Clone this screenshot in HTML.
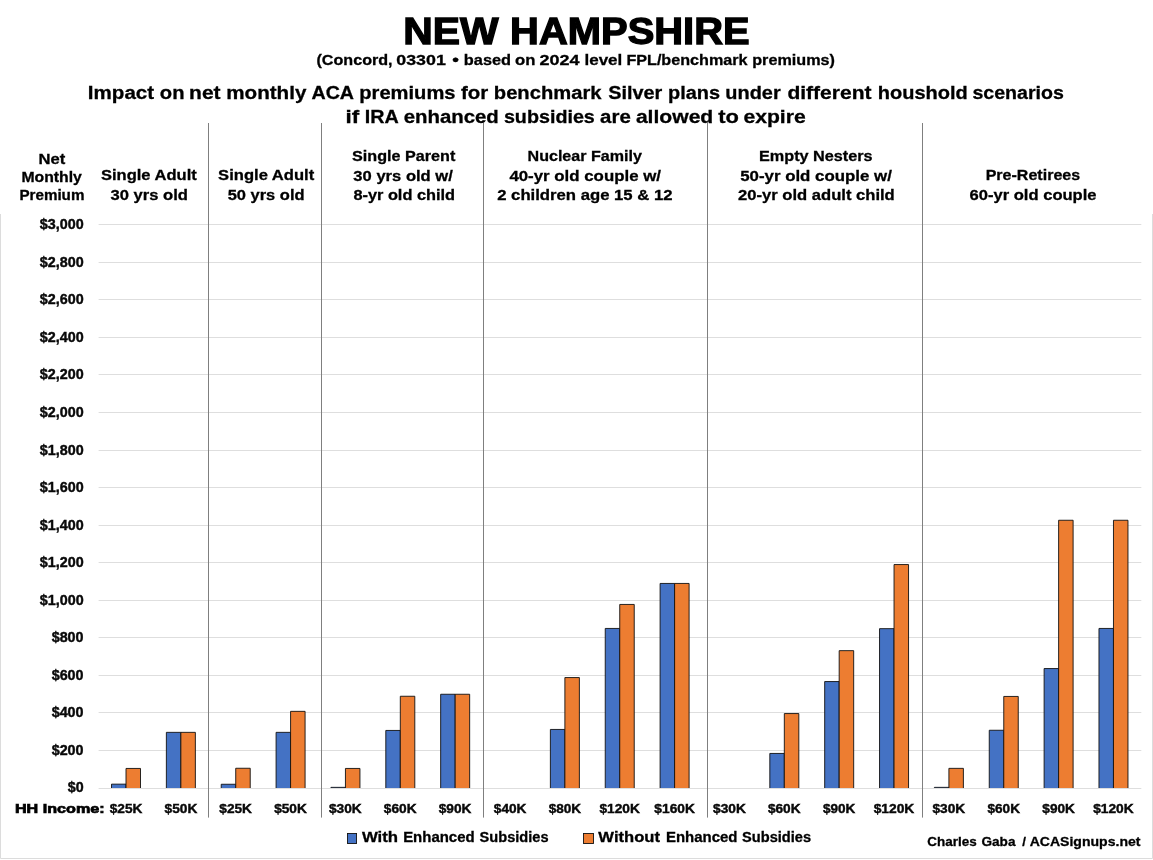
<!DOCTYPE html>
<html lang="en"><head><meta charset="utf-8"><title>New Hampshire - ACA premiums</title>
<style>html,body{margin:0;padding:0;background:#fff}svg{display:block}text{font-family:"Liberation Sans",Arial,sans-serif;font-weight:700;fill:#000}.c{fill:#0a0a0a}</style>
</head><body>
<svg width="1153" height="860" viewBox="0 0 1153 860">
<rect x="0" y="0" width="1153" height="860" fill="#fff"/>
<path d="M0.5 214V858.5H1152.5V214" fill="none" stroke="#dcdcdc" stroke-width="1"/>
<line x1="98.6" y1="788.50" x2="1141.3" y2="788.50" stroke="#dedede" stroke-width="1"/>
<line x1="98.6" y1="750.50" x2="1141.3" y2="750.50" stroke="#dedede" stroke-width="1"/>
<line x1="98.6" y1="712.50" x2="1141.3" y2="712.50" stroke="#dedede" stroke-width="1"/>
<line x1="98.6" y1="675.50" x2="1141.3" y2="675.50" stroke="#dedede" stroke-width="1"/>
<line x1="98.6" y1="637.50" x2="1141.3" y2="637.50" stroke="#dedede" stroke-width="1"/>
<line x1="98.6" y1="600.50" x2="1141.3" y2="600.50" stroke="#dedede" stroke-width="1"/>
<line x1="98.6" y1="562.50" x2="1141.3" y2="562.50" stroke="#dedede" stroke-width="1"/>
<line x1="98.6" y1="525.50" x2="1141.3" y2="525.50" stroke="#dedede" stroke-width="1"/>
<line x1="98.6" y1="487.50" x2="1141.3" y2="487.50" stroke="#dedede" stroke-width="1"/>
<line x1="98.6" y1="450.50" x2="1141.3" y2="450.50" stroke="#dedede" stroke-width="1"/>
<line x1="98.6" y1="412.50" x2="1141.3" y2="412.50" stroke="#dedede" stroke-width="1"/>
<line x1="98.6" y1="374.50" x2="1141.3" y2="374.50" stroke="#dedede" stroke-width="1"/>
<line x1="98.6" y1="337.50" x2="1141.3" y2="337.50" stroke="#dedede" stroke-width="1"/>
<line x1="98.6" y1="299.50" x2="1141.3" y2="299.50" stroke="#dedede" stroke-width="1"/>
<line x1="98.6" y1="262.50" x2="1141.3" y2="262.50" stroke="#dedede" stroke-width="1"/>
<line x1="98.6" y1="224.50" x2="1141.3" y2="224.50" stroke="#dedede" stroke-width="1"/>
<line x1="208.5" y1="123" x2="208.5" y2="817.6" stroke="#7f7f7f" stroke-width="1"/>
<line x1="321.5" y1="123" x2="321.5" y2="817.6" stroke="#7f7f7f" stroke-width="1"/>
<line x1="483.5" y1="123" x2="483.5" y2="817.6" stroke="#7f7f7f" stroke-width="1"/>
<line x1="707.5" y1="123" x2="707.5" y2="817.6" stroke="#7f7f7f" stroke-width="1"/>
<line x1="922.5" y1="123" x2="922.5" y2="817.6" stroke="#7f7f7f" stroke-width="1"/>
<path d="M111.50 788.0V784.15H126.00V788.0" fill="#4472c4" stroke="#111" stroke-width="0.9"/>
<path d="M126.00 788.0V768.45H140.50V788.0" fill="#ed7d31" stroke="#111" stroke-width="0.9"/>
<path d="M166.36 788.0V732.35H180.86V788.0" fill="#4472c4" stroke="#111" stroke-width="0.9"/>
<path d="M180.86 788.0V732.35H195.36V788.0" fill="#ed7d31" stroke="#111" stroke-width="0.9"/>
<path d="M221.22 788.0V784.25H235.72V788.0" fill="#4472c4" stroke="#111" stroke-width="0.9"/>
<path d="M235.72 788.0V768.25H250.22V788.0" fill="#ed7d31" stroke="#111" stroke-width="0.9"/>
<path d="M276.08 788.0V732.35H290.58V788.0" fill="#4472c4" stroke="#111" stroke-width="0.9"/>
<path d="M290.58 788.0V711.35H305.08V788.0" fill="#ed7d31" stroke="#111" stroke-width="0.9"/>
<path d="M330.94 788.0V787.35H345.44V788.0" fill="#4472c4" stroke="#111" stroke-width="0.9"/>
<path d="M345.44 788.0V768.45H359.94V788.0" fill="#ed7d31" stroke="#111" stroke-width="0.9"/>
<path d="M385.80 788.0V730.45H400.30V788.0" fill="#4472c4" stroke="#111" stroke-width="0.9"/>
<path d="M400.30 788.0V696.25H414.80V788.0" fill="#ed7d31" stroke="#111" stroke-width="0.9"/>
<path d="M440.66 788.0V694.25H455.16V788.0" fill="#4472c4" stroke="#111" stroke-width="0.9"/>
<path d="M455.16 788.0V694.25H469.66V788.0" fill="#ed7d31" stroke="#111" stroke-width="0.9"/>
<path d="M550.38 788.0V729.45H564.88V788.0" fill="#4472c4" stroke="#111" stroke-width="0.9"/>
<path d="M564.88 788.0V677.55H579.38V788.0" fill="#ed7d31" stroke="#111" stroke-width="0.9"/>
<path d="M605.24 788.0V628.45H619.74V788.0" fill="#4472c4" stroke="#111" stroke-width="0.9"/>
<path d="M619.74 788.0V604.45H634.24V788.0" fill="#ed7d31" stroke="#111" stroke-width="0.9"/>
<path d="M660.10 788.0V583.45H674.60V788.0" fill="#4472c4" stroke="#111" stroke-width="0.9"/>
<path d="M674.60 788.0V583.45H689.10V788.0" fill="#ed7d31" stroke="#111" stroke-width="0.9"/>
<path d="M769.82 788.0V753.45H784.32V788.0" fill="#4472c4" stroke="#111" stroke-width="0.9"/>
<path d="M784.32 788.0V713.55H798.82V788.0" fill="#ed7d31" stroke="#111" stroke-width="0.9"/>
<path d="M824.68 788.0V681.55H839.18V788.0" fill="#4472c4" stroke="#111" stroke-width="0.9"/>
<path d="M839.18 788.0V650.65H853.68V788.0" fill="#ed7d31" stroke="#111" stroke-width="0.9"/>
<path d="M879.54 788.0V628.65H894.04V788.0" fill="#4472c4" stroke="#111" stroke-width="0.9"/>
<path d="M894.04 788.0V564.55H908.54V788.0" fill="#ed7d31" stroke="#111" stroke-width="0.9"/>
<path d="M934.40 788.0V787.35H948.90V788.0" fill="#4472c4" stroke="#111" stroke-width="0.9"/>
<path d="M948.90 788.0V768.35H963.40V788.0" fill="#ed7d31" stroke="#111" stroke-width="0.9"/>
<path d="M989.26 788.0V730.25H1003.76V788.0" fill="#4472c4" stroke="#111" stroke-width="0.9"/>
<path d="M1003.76 788.0V696.45H1018.26V788.0" fill="#ed7d31" stroke="#111" stroke-width="0.9"/>
<path d="M1044.12 788.0V668.55H1058.62V788.0" fill="#4472c4" stroke="#111" stroke-width="0.9"/>
<path d="M1058.62 788.0V520.25H1073.12V788.0" fill="#ed7d31" stroke="#111" stroke-width="0.9"/>
<path d="M1098.98 788.0V628.45H1113.48V788.0" fill="#4472c4" stroke="#111" stroke-width="0.9"/>
<path d="M1113.48 788.0V520.25H1127.98V788.0" fill="#ed7d31" stroke="#111" stroke-width="0.9"/>
<text x="403.17" y="44.1" font-size="37.7" textLength="95.31" lengthAdjust="spacingAndGlyphs" stroke="#000" stroke-width="1.3">NEW</text>
<text x="510.13" y="44.1" font-size="37.7" textLength="239.51" lengthAdjust="spacingAndGlyphs" stroke="#000" stroke-width="1.3">HAMPSHIRE</text>
<text x="316.47" y="64.7" font-size="15.2" textLength="76.11" lengthAdjust="spacingAndGlyphs" stroke="#000" stroke-width="0.3">(Concord,</text>
<text x="396.31" y="64.7" font-size="15.2" textLength="49.53" lengthAdjust="spacingAndGlyphs" stroke="#000" stroke-width="0.3">03301</text>
<text x="452.39" y="64.7" font-size="15.2" textLength="6.67" lengthAdjust="spacingAndGlyphs" stroke="#000" stroke-width="0.3">•</text>
<text x="463.89" y="64.7" font-size="15.2" textLength="47.21" lengthAdjust="spacingAndGlyphs" stroke="#000" stroke-width="0.3">based</text>
<text x="515.13" y="64.7" font-size="15.2" textLength="20.40" lengthAdjust="spacingAndGlyphs" stroke="#000" stroke-width="0.3">on</text>
<text x="539.40" y="64.7" font-size="15.2" textLength="40.04" lengthAdjust="spacingAndGlyphs" stroke="#000" stroke-width="0.3">2024</text>
<text x="584.46" y="64.7" font-size="15.2" textLength="37.81" lengthAdjust="spacingAndGlyphs" stroke="#000" stroke-width="0.3">level</text>
<text x="626.40" y="64.7" font-size="15.2" textLength="121.14" lengthAdjust="spacingAndGlyphs" stroke="#000" stroke-width="0.3">FPL/benchmark</text>
<text x="752.22" y="64.7" font-size="15.2" textLength="82.69" lengthAdjust="spacingAndGlyphs" stroke="#000" stroke-width="0.3">premiums)</text>
<text x="87.88" y="98.8" font-size="18.85" textLength="66.28" lengthAdjust="spacingAndGlyphs" stroke="#000" stroke-width="0.3">Impact</text>
<text x="159.84" y="98.8" font-size="18.85" textLength="24.64" lengthAdjust="spacingAndGlyphs" stroke="#000" stroke-width="0.3">on</text>
<text x="189.10" y="98.8" font-size="18.85" textLength="31.49" lengthAdjust="spacingAndGlyphs" stroke="#000" stroke-width="0.3">net</text>
<text x="226.25" y="98.8" font-size="18.85" textLength="80.09" lengthAdjust="spacingAndGlyphs" stroke="#000" stroke-width="0.3">monthly</text>
<text x="311.52" y="98.8" font-size="18.85" textLength="42.53" lengthAdjust="spacingAndGlyphs" stroke="#000" stroke-width="0.3">ACA</text>
<text x="359.31" y="98.8" font-size="18.85" textLength="96.19" lengthAdjust="spacingAndGlyphs" stroke="#000" stroke-width="0.3">premiums</text>
<text x="461.01" y="98.8" font-size="18.85" textLength="27.23" lengthAdjust="spacingAndGlyphs" stroke="#000" stroke-width="0.3">for</text>
<text x="493.83" y="98.8" font-size="18.85" textLength="107.66" lengthAdjust="spacingAndGlyphs" stroke="#000" stroke-width="0.3">benchmark</text>
<text x="608.30" y="98.8" font-size="18.85" textLength="54.01" lengthAdjust="spacingAndGlyphs" stroke="#000" stroke-width="0.3">Silver</text>
<text x="668.01" y="98.8" font-size="18.85" textLength="51.99" lengthAdjust="spacingAndGlyphs" stroke="#000" stroke-width="0.3">plans</text>
<text x="725.32" y="98.8" font-size="18.85" textLength="55.36" lengthAdjust="spacingAndGlyphs" stroke="#000" stroke-width="0.3">under</text>
<text x="787.41" y="98.8" font-size="18.85" textLength="84.17" lengthAdjust="spacingAndGlyphs" stroke="#000" stroke-width="0.3">different</text>
<text x="877.75" y="98.8" font-size="18.85" textLength="89.93" lengthAdjust="spacingAndGlyphs" stroke="#000" stroke-width="0.3">houshold</text>
<text x="972.44" y="98.8" font-size="18.85" textLength="91.40" lengthAdjust="spacingAndGlyphs" stroke="#000" stroke-width="0.3">scenarios</text>
<text x="345.58" y="122.8" font-size="18.85" textLength="13.65" lengthAdjust="spacingAndGlyphs" stroke="#000" stroke-width="0.3">if</text>
<text x="364.81" y="122.8" font-size="18.85" textLength="34.00" lengthAdjust="spacingAndGlyphs" stroke="#000" stroke-width="0.3">IRA</text>
<text x="403.68" y="122.8" font-size="18.85" textLength="95.15" lengthAdjust="spacingAndGlyphs" stroke="#000" stroke-width="0.3">enhanced</text>
<text x="503.91" y="122.8" font-size="18.85" textLength="90.94" lengthAdjust="spacingAndGlyphs" stroke="#000" stroke-width="0.3">subsidies</text>
<text x="600.14" y="122.8" font-size="18.85" textLength="30.67" lengthAdjust="spacingAndGlyphs" stroke="#000" stroke-width="0.3">are</text>
<text x="635.90" y="122.8" font-size="18.85" textLength="77.36" lengthAdjust="spacingAndGlyphs" stroke="#000" stroke-width="0.3">allowed</text>
<text x="718.27" y="122.8" font-size="18.85" textLength="20.69" lengthAdjust="spacingAndGlyphs" stroke="#000" stroke-width="0.3">to</text>
<text x="743.40" y="122.8" font-size="18.85" textLength="62.33" lengthAdjust="spacingAndGlyphs" stroke="#000" stroke-width="0.3">expire</text>
<text x="38.62" y="163.8" font-size="14" textLength="26.69" lengthAdjust="spacingAndGlyphs" stroke="#000" stroke-width="0.3">Net</text>
<text x="21.49" y="181.9" font-size="14" textLength="60.35" lengthAdjust="spacingAndGlyphs" stroke="#000" stroke-width="0.3">Monthly</text>
<text x="19.41" y="199.7" font-size="14" textLength="65.01" lengthAdjust="spacingAndGlyphs" stroke="#000" stroke-width="0.3">Premium</text>
<text x="101.01" y="179.9" font-size="15.4" textLength="95.73" lengthAdjust="spacingAndGlyphs" stroke="#000" stroke-width="0.3">Single Adult</text>
<text x="110.46" y="199.9" font-size="15.4" textLength="77.45" lengthAdjust="spacingAndGlyphs" stroke="#000" stroke-width="0.3">30 yrs old</text>
<text x="218.12" y="179.9" font-size="15.4" textLength="96.09" lengthAdjust="spacingAndGlyphs" stroke="#000" stroke-width="0.3">Single Adult</text>
<text x="227.65" y="199.9" font-size="15.4" textLength="76.91" lengthAdjust="spacingAndGlyphs" stroke="#000" stroke-width="0.3">50 yrs old</text>
<text x="352.10" y="160.8" font-size="15.4" textLength="103.19" lengthAdjust="spacingAndGlyphs" stroke="#000" stroke-width="0.3">Single Parent</text>
<text x="353.39" y="180.6" font-size="15.4" textLength="99.46" lengthAdjust="spacingAndGlyphs" stroke="#000" stroke-width="0.3">30 yrs old w/</text>
<text x="353.42" y="200.2" font-size="15.4" textLength="101.62" lengthAdjust="spacingAndGlyphs" stroke="#000" stroke-width="0.3">8-yr old child</text>
<text x="527.56" y="160.8" font-size="15.4" textLength="114.32" lengthAdjust="spacingAndGlyphs" stroke="#000" stroke-width="0.3">Nuclear Family</text>
<text x="509.40" y="180.6" font-size="15.4" textLength="151.57" lengthAdjust="spacingAndGlyphs" stroke="#000" stroke-width="0.3">40-yr old couple w/</text>
<text x="497.18" y="200.2" font-size="15.4" textLength="175.40" lengthAdjust="spacingAndGlyphs" stroke="#000" stroke-width="0.3">2 children age 15 &amp; 12</text>
<text x="759.00" y="160.8" font-size="15.4" textLength="113.64" lengthAdjust="spacingAndGlyphs" stroke="#000" stroke-width="0.3">Empty Nesters</text>
<text x="740.19" y="180.6" font-size="15.4" textLength="151.65" lengthAdjust="spacingAndGlyphs" stroke="#000" stroke-width="0.3">50-yr old couple w/</text>
<text x="737.99" y="200.2" font-size="15.4" textLength="156.77" lengthAdjust="spacingAndGlyphs" stroke="#000" stroke-width="0.3">20-yr old adult child</text>
<text x="985.66" y="179.9" font-size="15.4" textLength="94.50" lengthAdjust="spacingAndGlyphs" stroke="#000" stroke-width="0.3">Pre-Retirees</text>
<text x="969.54" y="199.7" font-size="15.4" textLength="127.02" lengthAdjust="spacingAndGlyphs" stroke="#000" stroke-width="0.3">60-yr old couple</text>
<text x="67.83" y="791.9" font-size="14.4" textLength="15.88" lengthAdjust="spacingAndGlyphs" class="c" stroke="#000" stroke-width="0.4">$0</text>
<text x="51.68" y="754.8" font-size="14.4" textLength="31.90" lengthAdjust="spacingAndGlyphs" class="c" stroke="#000" stroke-width="0.4">$200</text>
<text x="51.68" y="716.8" font-size="14.4" textLength="31.90" lengthAdjust="spacingAndGlyphs" class="c" stroke="#000" stroke-width="0.4">$400</text>
<text x="51.68" y="679.8" font-size="14.4" textLength="31.90" lengthAdjust="spacingAndGlyphs" class="c" stroke="#000" stroke-width="0.4">$600</text>
<text x="51.68" y="641.8" font-size="14.4" textLength="31.90" lengthAdjust="spacingAndGlyphs" class="c" stroke="#000" stroke-width="0.4">$800</text>
<text x="39.85" y="604.8" font-size="14.4" textLength="43.85" lengthAdjust="spacingAndGlyphs" class="c" stroke="#000" stroke-width="0.4">$1,000</text>
<text x="39.85" y="566.8" font-size="14.4" textLength="43.85" lengthAdjust="spacingAndGlyphs" class="c" stroke="#000" stroke-width="0.4">$1,200</text>
<text x="39.85" y="529.8" font-size="14.4" textLength="43.85" lengthAdjust="spacingAndGlyphs" class="c" stroke="#000" stroke-width="0.4">$1,400</text>
<text x="39.85" y="491.8" font-size="14.4" textLength="43.85" lengthAdjust="spacingAndGlyphs" class="c" stroke="#000" stroke-width="0.4">$1,600</text>
<text x="39.85" y="454.8" font-size="14.4" textLength="43.85" lengthAdjust="spacingAndGlyphs" class="c" stroke="#000" stroke-width="0.4">$1,800</text>
<text x="39.85" y="416.8" font-size="14.4" textLength="43.85" lengthAdjust="spacingAndGlyphs" class="c" stroke="#000" stroke-width="0.4">$2,000</text>
<text x="39.85" y="378.8" font-size="14.4" textLength="43.85" lengthAdjust="spacingAndGlyphs" class="c" stroke="#000" stroke-width="0.4">$2,200</text>
<text x="39.85" y="341.8" font-size="14.4" textLength="43.85" lengthAdjust="spacingAndGlyphs" class="c" stroke="#000" stroke-width="0.4">$2,400</text>
<text x="39.85" y="303.8" font-size="14.4" textLength="43.85" lengthAdjust="spacingAndGlyphs" class="c" stroke="#000" stroke-width="0.4">$2,600</text>
<text x="39.85" y="266.8" font-size="14.4" textLength="43.85" lengthAdjust="spacingAndGlyphs" class="c" stroke="#000" stroke-width="0.4">$2,800</text>
<text x="39.85" y="228.8" font-size="14.4" textLength="43.85" lengthAdjust="spacingAndGlyphs" class="c" stroke="#000" stroke-width="0.4">$3,000</text>
<text x="14.98" y="812.7" font-size="13.0" textLength="89.64" lengthAdjust="spacingAndGlyphs" stroke="#000" stroke-width="0.7">HH Income:</text>
<text x="109.72" y="812.7" font-size="13.4" textLength="32.64" lengthAdjust="spacingAndGlyphs" class="c" stroke="#000" stroke-width="0.4">$25K</text>
<text x="164.55" y="812.7" font-size="13.4" textLength="32.73" lengthAdjust="spacingAndGlyphs" class="c" stroke="#000" stroke-width="0.4">$50K</text>
<text x="219.31" y="812.7" font-size="13.4" textLength="32.71" lengthAdjust="spacingAndGlyphs" class="c" stroke="#000" stroke-width="0.4">$25K</text>
<text x="274.16" y="812.7" font-size="13.4" textLength="32.71" lengthAdjust="spacingAndGlyphs" class="c" stroke="#000" stroke-width="0.4">$50K</text>
<text x="328.95" y="812.7" font-size="13.4" textLength="32.76" lengthAdjust="spacingAndGlyphs" class="c" stroke="#000" stroke-width="0.4">$30K</text>
<text x="383.80" y="812.7" font-size="13.4" textLength="32.77" lengthAdjust="spacingAndGlyphs" class="c" stroke="#000" stroke-width="0.4">$60K</text>
<text x="438.75" y="812.7" font-size="13.4" textLength="32.76" lengthAdjust="spacingAndGlyphs" class="c" stroke="#000" stroke-width="0.4">$90K</text>
<text x="493.82" y="812.7" font-size="13.4" textLength="32.63" lengthAdjust="spacingAndGlyphs" class="c" stroke="#000" stroke-width="0.4">$40K</text>
<text x="548.65" y="812.7" font-size="13.4" textLength="32.42" lengthAdjust="spacingAndGlyphs" class="c" stroke="#000" stroke-width="0.4">$80K</text>
<text x="599.45" y="812.7" font-size="13.4" textLength="40.42" lengthAdjust="spacingAndGlyphs" class="c" stroke="#000" stroke-width="0.4">$120K</text>
<text x="654.39" y="812.7" font-size="13.4" textLength="40.49" lengthAdjust="spacingAndGlyphs" class="c" stroke="#000" stroke-width="0.4">$160K</text>
<text x="713.05" y="812.7" font-size="13.4" textLength="32.82" lengthAdjust="spacingAndGlyphs" class="c" stroke="#000" stroke-width="0.4">$30K</text>
<text x="767.90" y="812.7" font-size="13.4" textLength="32.68" lengthAdjust="spacingAndGlyphs" class="c" stroke="#000" stroke-width="0.4">$60K</text>
<text x="822.97" y="812.7" font-size="13.4" textLength="32.41" lengthAdjust="spacingAndGlyphs" class="c" stroke="#000" stroke-width="0.4">$90K</text>
<text x="873.65" y="812.7" font-size="13.4" textLength="40.70" lengthAdjust="spacingAndGlyphs" class="c" stroke="#000" stroke-width="0.4">$120K</text>
<text x="932.48" y="812.7" font-size="13.4" textLength="32.66" lengthAdjust="spacingAndGlyphs" class="c" stroke="#000" stroke-width="0.4">$30K</text>
<text x="987.50" y="812.7" font-size="13.4" textLength="32.49" lengthAdjust="spacingAndGlyphs" class="c" stroke="#000" stroke-width="0.4">$60K</text>
<text x="1042.37" y="812.7" font-size="13.4" textLength="32.62" lengthAdjust="spacingAndGlyphs" class="c" stroke="#000" stroke-width="0.4">$90K</text>
<text x="1093.16" y="812.7" font-size="13.4" textLength="40.54" lengthAdjust="spacingAndGlyphs" class="c" stroke="#000" stroke-width="0.4">$120K</text>
<text x="361.91" y="842.4" font-size="14.5" textLength="36.20" lengthAdjust="spacingAndGlyphs" stroke="#000" stroke-width="0.3">With</text>
<text x="403.17" y="842.4" font-size="14.5" textLength="71.43" lengthAdjust="spacingAndGlyphs" stroke="#000" stroke-width="0.3">Enhanced</text>
<text x="479.64" y="842.4" font-size="14.5" textLength="68.92" lengthAdjust="spacingAndGlyphs" stroke="#000" stroke-width="0.3">Subsidies</text>
<text x="598.38" y="842.4" font-size="14.5" textLength="61.56" lengthAdjust="spacingAndGlyphs" stroke="#000" stroke-width="0.3">Without</text>
<text x="666.00" y="842.4" font-size="14.5" textLength="71.46" lengthAdjust="spacingAndGlyphs" stroke="#000" stroke-width="0.3">Enhanced</text>
<text x="742.11" y="842.4" font-size="14.5" textLength="68.96" lengthAdjust="spacingAndGlyphs" stroke="#000" stroke-width="0.3">Subsidies</text>
<text x="927.35" y="845.5" font-size="13.3" textLength="49.35" lengthAdjust="spacingAndGlyphs" stroke="#000" stroke-width="0.3">Charles</text>
<text x="981.48" y="845.5" font-size="13.3" textLength="34.01" lengthAdjust="spacingAndGlyphs" stroke="#000" stroke-width="0.3">Gaba</text>
<text x="1024.00" y="845.5" font-size="13.3" text-anchor="middle" stroke="#000" stroke-width="0.3">/</text>
<text x="1029.67" y="845.5" font-size="13.3" textLength="110.82" lengthAdjust="spacingAndGlyphs" stroke="#000" stroke-width="0.3">ACASignups.net</text>
<rect x="347.45" y="833.45" width="9.1" height="10.05" fill="#4472c4" stroke="#111" stroke-width="0.9"/>
<rect x="583.45" y="833.5" width="10.1" height="10.0" fill="#ed7d31" stroke="#111" stroke-width="0.9"/>
</svg></body></html>
